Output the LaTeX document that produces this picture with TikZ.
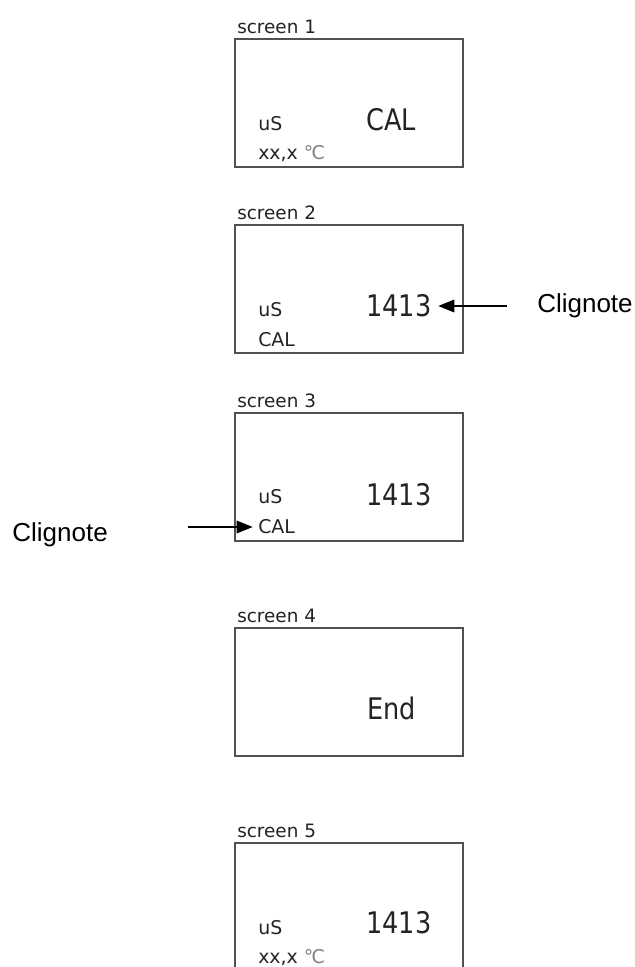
\documentclass[tikz,border=0pt]{standalone}
\usepackage{fontspec}
\usetikzlibrary{arrows.meta}
\newfontfamily\lcdfont{DejaVu Sans}
\newfontfamily\lcdbigfont[FakeStretch=0.86]{DejaVu Sans}
\newfontfamily\notefont{Liberation Sans}
\definecolor{framegray}{RGB}{80,80,80}
\definecolor{lcdtext}{RGB}{35,35,35}

\begin{document}
\begin{tikzpicture}[x=0.75pt,y=-0.75pt,
    screenbox/.style={draw=framegray,line width=1.3pt,minimum width=171pt,minimum height=96pt,inner sep=0pt},
    screenlabel/.style={anchor=base west,inner sep=0pt,font=\lcdfont\fontsize{13.8}{15}\selectfont,text=lcdtext},
    small/.style={anchor=west,inner sep=0pt,font=\lcdfont\fontsize{14.2}{16}\selectfont,text=lcdtext},
    big/.style={anchor=west,inner sep=0pt,font=\lcdbigfont\fontsize{22.3}{25}\selectfont,text=lcdtext},
    note/.style={inner sep=0pt,font=\notefont\fontsize{19.5}{22}\selectfont},
    clig/.style={line width=0.9pt,-{Triangle[length=12pt,width=9.5pt]}}]
    \useasboundingbox (0,0) rectangle (635,967);
    \clip (0,0) rectangle (635,967);

    % screen 1
    \node[screenbox] (s1) at (349,103) {};
    \node[screenlabel] (l1) at (237,33) {screen 1};
    \node[small] (u1) at (258,124) {uS};
    \node[small] (t1) at (258,154) {xx,x \textcolor{gray}{℃}};
    \node[big] (b1) at (366,120) {CAL};

    % screen 2
    \node[screenbox] (s2) at (349,289) {};
    \node[screenlabel] (l2) at (237,219) {screen 2};
    \node[small] (u2) at (258,310) {uS};
    \node[small] (c2) at (258,340) {CAL};
    \node[big] (b2) at (366,306) {1413};
    \node[note,anchor=west] (n2) at (537,306) {Clignote};
    \coordinate (a2) at (507,306);
    \draw[clig,shorten >=5pt] (a2) -- (b2.east);

    % screen 3
    \node[screenbox] (s3) at (349,477) {};
    \node[screenlabel] (l3) at (237,407) {screen 3};
    \node[small] (u3) at (258,497) {uS};
    \node[small] (c3) at (258,527) {CAL};
    \node[big] (b3) at (366,495) {1413};
    \node[note,anchor=east] (n3) at (108,535) {Clignote};
    \coordinate (a3) at (188,527);
    \draw[clig,shorten >=4pt] (a3) -- (c3.west);

    % screen 4
    \node[screenbox] (s4) at (349,692) {};
    \node[screenlabel] (l4) at (237,622) {screen 4};
    \node[big] (b4) at (367,708) {End};

    % screen 5
    \node[screenbox] (s5) at (349,907) {};
    \node[screenlabel] (l5) at (237,837) {screen 5};
    \node[small] (u5) at (258,928) {uS};
    \node[small] (t5) at (258,958) {xx,x \textcolor{gray}{℃}};
    \node[big] (b5) at (366,923) {1413};
\end{tikzpicture}
\end{document}
